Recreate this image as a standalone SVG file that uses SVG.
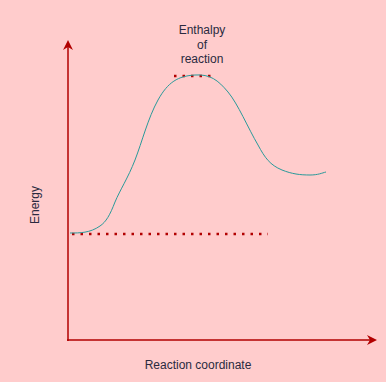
<svg xmlns="http://www.w3.org/2000/svg" width="386" height="382" viewBox="0 0 386 382">
<style>
.axis{stroke:#B20000;stroke-width:1.5;fill:none}
.dots{stroke:#B20000;stroke-width:2.5;stroke-dasharray:2.5 6;fill:none}
.curve{stroke:#2A9A9A;stroke-width:1;fill:none}
text{font-family:"Liberation Sans",Arial,sans-serif;font-size:12px;fill:#2A2A40}
</style>
<defs>
<marker id="arr" markerWidth="10" markerHeight="10" refX="8" refY="5" orient="auto" markerUnits="userSpaceOnUse">
<path d="M0,0 L10,5 L0,10 L3,5 Z" fill="#B20000"/>
</marker>
</defs>
<rect width="386" height="382" fill="#FFCCCC"/>
<g id="connectors">
<path class="axis" d="M68,341 L68,42" marker-end="url(#arr)"/>
<path class="axis" d="M67,340 L375,340" marker-end="url(#arr)"/>
<path class="dots" d="M72,234 L268,234"/>
<path class="dots" d="M174,76 L216,76"/>
<path class="curve" d="M70,233 C80,233 90,233 100,226 C106,222 110,215 115,202 C120,190 128,178 135,160 C142,142 148,118 158,100 C168,82 178,76 195,75 C210,74 218,80 228,92 C238,104 248,128 258,145 C265,158 270,165 282,170 C292,174 300,175 310,175 C318,175 322,173 326,172"/>
</g>
<g id="title">
<text x="202" y="34" text-anchor="middle">Enthalpy</text>
<text x="202" y="49" text-anchor="middle">of</text>
<text x="202" y="63" text-anchor="middle">reaction</text>
</g>
<g id="xlabel"><text x="198" y="369" text-anchor="middle">Reaction coordinate</text></g>
<g id="ylabel"><text x="39" y="205" text-anchor="middle" transform="rotate(-90 39 205)">Energy</text></g>
</svg>
